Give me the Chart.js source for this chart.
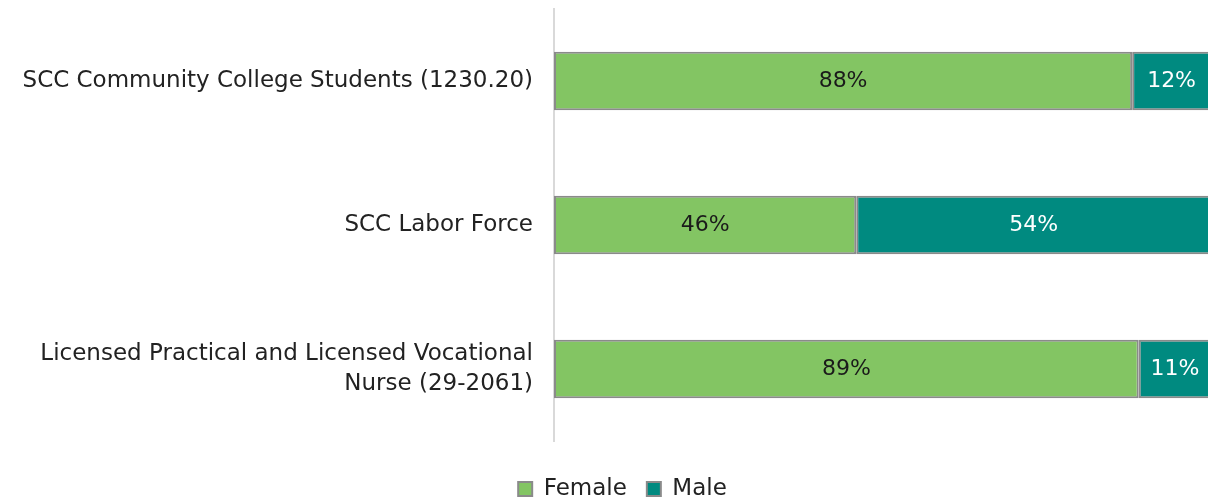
<!DOCTYPE html>
<html><head><meta charset="utf-8">
<script src="https://cdn.jsdelivr.net/npm/chart.js@4/dist/chart.umd.min.js"></script>
<style>html,body{margin:0;padding:0;background:#fff;overflow:hidden}#wrap{width:1211px;height:502px}</style>
</head><body><div id="wrap"><canvas id="c" width="1211" height="502"></canvas></div>
<script>
const categories = [["SCC Community College Students (1230.20)"], ["SCC Labor Force"], ["Licensed Practical and Licensed Vocational", "Nurse (29-2061)"]];
const seriesNames = ["Female", "Male"];
const femaleValues = [88, 46, 89];
const maleValues = [12, 54, 11];
const colors = ["#83C563", "#008A80"];
const labelColors = ["#1a1a1a", "#ffffff"];
const FONT = "'DejaVu Sans', sans-serif";

const labelPlugin = {
  id: 'barLabels',
  afterLayout(chart) {
    if (chart.legend) { chart.legend.left += 17; chart.legend.right += 17; }
  },
  afterDatasetsDraw(chart) {
    const ctx = chart.ctx;
    ctx.save();
    ctx.font = "22px " + FONT;
    ctx.textAlign = 'center';
    ctx.textBaseline = 'middle';
    chart.data.datasets.forEach((ds, di) => {
      const meta = chart.getDatasetMeta(di);
      meta.data.forEach((bar, i) => {
        const v = ds.data[i];
        const x = (bar.x + bar.base) / 2;
        ctx.fillStyle = labelColors[di];
        ctx.fillText(Math.round(v) + '%', x, bar.y);
      });
    });
    ctx.restore();
  }
};

new Chart(document.getElementById('c'), {
  type: 'bar',
  data: {
    labels: categories,
    datasets: [
      { label: seriesNames[0], data: femaleValues, backgroundColor: colors[0], borderColor: '#8a8a8a', borderWidth: 2, borderSkipped: false, barPercentage: 0.405, categoryPercentage: 1 },
      { label: seriesNames[1], data: maleValues, backgroundColor: colors[1], borderColor: '#8a8a8a', borderWidth: 2, borderSkipped: false, barPercentage: 0.405, categoryPercentage: 1 }
    ]
  },
  options: {
    indexAxis: 'y',
    responsive: false,
    animation: false,
    layout: { padding: { top: 9, right: 0, left: 0, bottom: -8.5 } },
    scales: {
      x: {
        stacked: true, min: 0, max: 100, display: true,
        grid: { display: false, drawTicks: false },
        border: { display: false },
        ticks: { display: false },
        afterFit(scale) { scale.height = 16.5; scale.paddingLeft = 0; scale.paddingRight = 0; }
      },
      y: {
        stacked: true,
        grid: { display: false, drawTicks: false },
        border: { display: true, color: '#d9d9d9', width: 2 },
        ticks: { color: '#222', font: { family: FONT, size: 23, lineHeight: 1.3 }, padding: 21 },
        afterFit(scale) { scale.width = 554; scale.paddingTop = 0; scale.paddingBottom = 0; }
      }
    },
    plugins: {
      legend: {
        position: 'bottom',
        labels: { color: '#222', font: { family: FONT, size: 23 }, boxWidth: 14, boxHeight: 14, padding: 20,
          generateLabels(chart) {
            return chart.data.datasets.map((d, i) => ({ text: d.label, fillStyle: d.backgroundColor, strokeStyle: '#8a8a8a', lineWidth: 2, datasetIndex: i, fontColor: '#222' }));
          }
        }
      },
      tooltip: { enabled: false }
    }
  },
  plugins: [labelPlugin]
});
</script></body></html>
